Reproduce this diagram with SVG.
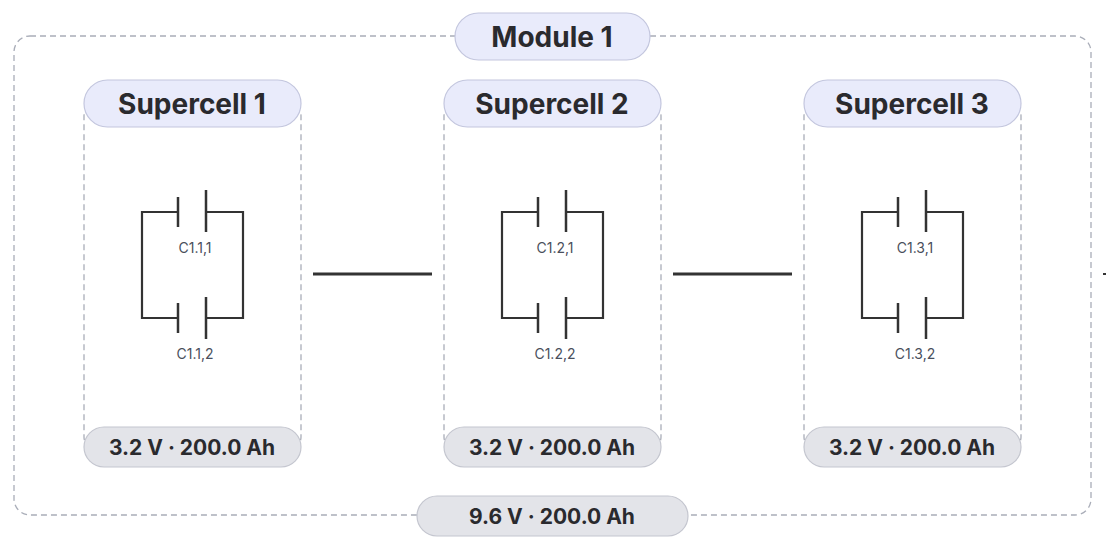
<svg xmlns="http://www.w3.org/2000/svg" width="1106" height="546" viewBox="0 0 1106 546">
<style>
.dash{fill:none;stroke:#a9adb8;stroke-width:1.3;stroke-dasharray:6 4}
.pill{fill:#e9ebfb;stroke:#c3c6de;stroke-width:1.2}
.gpill{fill:#e3e4e9;stroke:#c4c6cf;stroke-width:1.2}
.t{font-family:Inter,"Liberation Sans",sans-serif;font-weight:700;fill:#2a2a2e;text-anchor:middle}
.s{font-family:Inter,"Liberation Sans",sans-serif;font-size:14px;fill:#4a4f5c;text-anchor:middle}
.w{fill:none;stroke:#333;stroke-width:2.2}
.c{stroke:#333;stroke-width:2.5}
</style>
<defs>
<g id="sc">
<rect x="84" y="104" width="217" height="345" rx="12" class="dash"/>
<path class="w" d="M178 212H142V318H178M206 212H243V318H206"/>
<line class="c" x1="178" y1="197" x2="178" y2="227"/>
<line class="c" x1="206" y1="190" x2="206" y2="232"/>
<line class="c" x1="178" y1="303" x2="178" y2="333"/>
<line class="c" x1="206" y1="297" x2="206" y2="339"/>
<rect x="84" y="427" width="217" height="40" rx="20" class="gpill"/>
<rect x="84" y="80" width="217" height="47" rx="23.5" class="pill"/>
</g>
</defs>
<g id="module">
<rect x="14" y="36" width="1077" height="479" rx="16" class="dash"/>
<rect x="455" y="13" width="195" height="47" rx="23.5" class="pill"/>
<text x="552" y="47" class="t" font-size="28">Module 1</text>
<rect x="417" y="496" width="271" height="40" rx="20" class="gpill"/>
<text x="552" y="524" class="t" font-size="21">9.6 V · 200.0 Ah</text>
</g>
<g id="sc1">
<use href="#sc"/>
<text x="192" y="114" class="t" font-size="28">Supercell 1</text>
<text x="195" y="253" class="s">C1.1,1</text><text x="195" y="359" class="s">C1.1,2</text>
<text x="192" y="455" class="t" font-size="21">3.2 V · 200.0 Ah</text>
</g>
<g id="sc2" transform="translate(360,0)">
<use href="#sc"/>
<text x="192" y="114" class="t" font-size="28">Supercell 2</text>
<text x="195" y="253" class="s">C1.2,1</text><text x="195" y="359" class="s">C1.2,2</text>
<text x="192" y="455" class="t" font-size="21">3.2 V · 200.0 Ah</text>
</g>
<g id="sc3" transform="translate(720,0)">
<use href="#sc"/>
<text x="192" y="114" class="t" font-size="28">Supercell 3</text>
<text x="195" y="253" class="s">C1.3,1</text><text x="195" y="359" class="s">C1.3,2</text>
<text x="192" y="455" class="t" font-size="21">3.2 V · 200.0 Ah</text>
</g>
<g id="connectors" stroke="#333" stroke-width="3">
<line x1="313" y1="274" x2="432" y2="274"/>
<line x1="673" y1="274" x2="792" y2="274"/>
<line x1="1103" y1="274" x2="1106" y2="274" stroke-width="2"/>
</g>
</svg>
